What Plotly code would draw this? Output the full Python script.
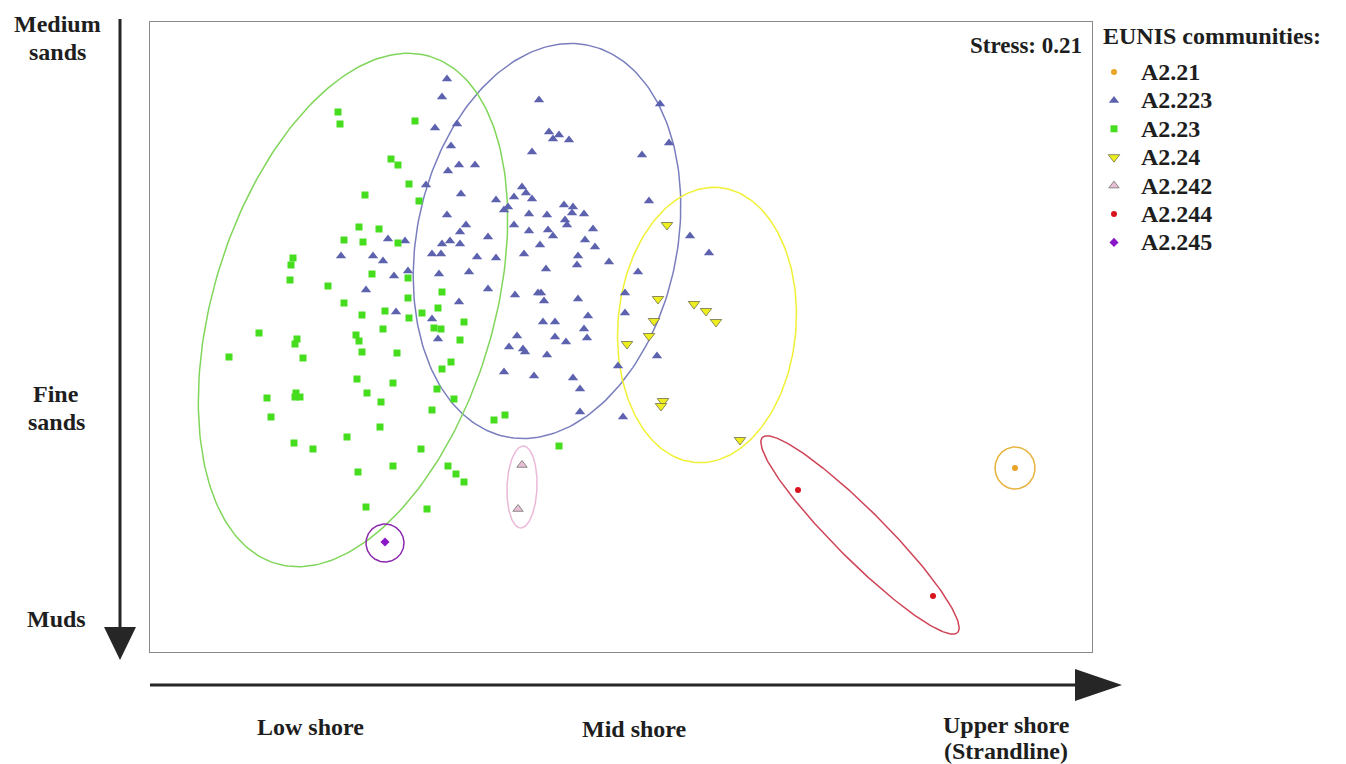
import numpy as np
import plotly.graph_objects as go

W, H = 1346, 764

# ---- nMDS site scores (panel units: x grows to the upper shore, y grows towards muds) ----
a2_21_x = [1015]
a2_21_y = [468]

a2_223_x = [447, 442, 435, 457, 451, 459, 475, 448, 426, 461, 447, 466, 460, 388, 405,
            442, 450, 460, 341, 373, 383, 432, 441, 477, 394, 408, 439, 469, 366, 459,
            396, 432, 438, 539, 549, 553, 559, 569, 532, 522, 526, 514, 532, 496, 508,
            504, 564, 573, 572, 584, 529, 547, 565, 567, 514, 529, 548, 553, 593, 488,
            585, 595, 540, 524, 578, 577, 496, 546, 488, 515, 538, 541, 578, 544, 588,
            543, 555, 584, 587, 555, 517, 566, 509, 523, 525, 547, 504, 534, 573, 580,
            580, 660, 669, 642, 649, 690, 709, 609, 638, 625, 625, 657, 618, 623]
a2_223_y = [79, 97, 128, 124, 146, 165, 165, 171, 185, 194, 215, 225, 232, 239, 241,
            244, 241, 244, 256, 256, 261, 254, 254, 257, 276, 271, 274, 272, 290, 302,
            312, 319, 339, 100, 132, 139, 135, 140, 152, 187, 193, 197, 199, 200, 207,
            210, 205, 207, 213, 214, 214, 215, 220, 225, 225, 231, 230, 236, 229, 237,
            240, 247, 245, 254, 256, 265, 258, 269, 289, 295, 293, 293, 299, 301, 316,
            322, 322, 329, 338, 337, 336, 342, 347, 349, 352, 355, 372, 376, 378, 389,
            412, 104, 143, 155, 201, 236, 253, 262, 272, 293, 313, 356, 366, 417]

a2_23_x = [338, 340, 415, 391, 398, 409, 365, 419, 359, 379, 344, 363, 398, 293, 291,
           290, 328, 372, 408, 442, 408, 344, 362, 385, 409, 422, 438, 434, 441, 464,
           460, 383, 356, 359, 362, 397, 451, 442, 357, 393, 367, 381, 437, 454, 432,
           380, 347, 421, 358, 393, 448, 456, 464, 366, 427, 259, 297, 295, 229, 303,
           267, 296, 295, 300, 271, 294, 313, 494, 505, 559]
a2_23_y = [112, 124, 121, 159, 165, 184, 195, 201, 227, 229, 240, 242, 243, 258, 265,
           280, 286, 274, 278, 292, 298, 303, 315, 311, 318, 313, 308, 328, 329, 322,
           340, 329, 335, 341, 352, 353, 362, 369, 379, 383, 393, 402, 389, 399, 410,
           427, 437, 449, 472, 466, 466, 474, 482, 507, 509, 333, 339, 344, 357, 358,
           398, 393, 397, 397, 417, 443, 449, 420, 415, 446]

a2_24_x = [667, 658, 694, 706, 716, 654, 649, 627, 663, 661, 740]
a2_24_y = [225, 299, 304, 311, 322, 321, 336, 344, 401, 406, 440]

a2_242_x = [522, 518]
a2_242_y = [465, 509]

a2_244_x = [798, 933]
a2_244_y = [490, 596]

a2_245_x = [385]
a2_245_y = [542]

# ---- group ellipses: centre, semi-axes, orientation of the major axis (deg) ----
ell_names = ["A2.21", "A2.223", "A2.23", "A2.24", "A2.242", "A2.244", "A2.245"]
ell_cx = [1015, 547, 353, 707, 522, 860, 385]
ell_cy = [468, 241, 310, 325, 487, 535, 543]
ell_a = [21, 200, 265, 138, 41, 138, 19]
ell_b = [20, 130, 140, 89, 15, 25, 19]
ell_phi = [90, 78, 73, 85, 88, -45, 90]

SERIF = "Liberation Serif, Times New Roman, serif"
TXT = "#1e1e1e"

groups = [
    ("A2.21", a2_21_x, a2_21_y, dict(symbol="circle", size=6, color="#E8A425", line=dict(width=0)), "#E7B33C"),
    ("A2.223", a2_223_x, a2_223_y, dict(symbol="triangle-up", size=9, color="#5C62AE", line=dict(width=0)), "#7A7EBE"),
    ("A2.23", a2_23_x, a2_23_y, dict(symbol="square", size=7, color="#47DD1F", line=dict(width=0)), "#80D65A"),
    ("A2.24", a2_24_x, a2_24_y, dict(symbol="triangle-down", size=10, color="#EEEE1E", line=dict(width=0.8, color="#6E6E50")), "#F0F035"),
    ("A2.242", a2_242_x, a2_242_y, dict(symbol="triangle-up", size=9, color="#E9BFD6", line=dict(width=0.8, color="#707070")), "#EBB8D8"),
    ("A2.244", a2_244_x, a2_244_y, dict(symbol="circle", size=6, color="#D8141E", line=dict(width=0)), "#CF4457"),
    ("A2.245", a2_245_x, a2_245_y, dict(symbol="diamond", size=7, color="#8A18C8", line=dict(width=0)), "#8C2AAE"),
]


def ellipse(cx, cy, a, b, phi_deg, n=240):
    """Outline of a rotated ellipse; the panel's y axis points downwards."""
    t = np.linspace(0, 2 * np.pi, n)
    p = np.radians(phi_deg)
    ux, uy = np.cos(p), -np.sin(p)
    vx, vy = np.sin(p), np.cos(p)
    return (cx + a * np.cos(t) * ux + b * np.sin(t) * vx,
            cy + a * np.cos(t) * uy + b * np.sin(t) * vy)


fig = go.Figure()

for i, (name, xs, ys, mk, ecol) in enumerate(groups):
    ex, ey = ellipse(ell_cx[i], ell_cy[i], ell_a[i], ell_b[i], ell_phi[i])
    fig.add_trace(go.Scatter(x=ex, y=ey, mode="lines", line=dict(color=ecol, width=1.5),
                             hoverinfo="skip", showlegend=False))

for name, xs, ys, mk, ecol in groups:
    fig.add_trace(go.Scatter(x=xs, y=ys, mode="markers", name=name, marker=mk,
                             showlegend=False))

# legend key, drawn on a full-page helper axis
row0, row_step = 72, 28.4
for i, (name, xs, ys, mk, ecol) in enumerate(groups):
    fig.add_trace(go.Scatter(x=[1114], y=[row0 + i * row_step], mode="markers",
                             marker=mk, xaxis="x2", yaxis="y2", showlegend=False,
                             hoverinfo="skip"))


def px(x):
    return x / W


def py(y):
    return 1 - y / H


ann = []


def label(text, x, y, xanchor="center", size=24):
    ann.append(dict(text=f"<b>{text}</b>", x=px(x), y=py(y), xref="paper", yref="paper",
                    xanchor=xanchor, yanchor="middle", showarrow=False,
                    font=dict(family=SERIF, size=size, color=TXT)))


label("Medium", 57, 24)
label("sands", 57, 52)
label("Fine", 56, 394)
label("sands", 56, 422)
label("Muds", 56, 619)
label("Low shore", 310, 727)
label("Mid shore", 634, 729)
label("Upper shore", 1006, 725)
label("(Strandline)", 1006, 751)
label("Stress: 0.21", 1084, 45, xanchor="right", size=23)
label("EUNIS communities:", 1101, 36, xanchor="left")
for i, (name, *_rest) in enumerate(groups):
    label(name, 1139, row0 + i * row_step, xanchor="left")

ARROW = "#262626"
shapes = [
    dict(type="line", xref="paper", yref="paper", x0=px(120), y0=py(19), x1=px(120), y1=py(632),
         line=dict(color=ARROW, width=3)),
    dict(type="path", xref="paper", yref="paper",
         path=f"M {px(104)} {py(627)} L {px(136)} {py(627)} L {px(120)} {py(660)} Z",
         fillcolor=ARROW, line=dict(width=0)),
    dict(type="line", xref="paper", yref="paper", x0=px(150), y0=py(685), x1=px(1080), y1=py(685),
         line=dict(color=ARROW, width=3)),
    dict(type="path", xref="paper", yref="paper",
         path=f"M {px(1075)} {py(669)} L {px(1075)} {py(701)} L {px(1122)} {py(685)} Z",
         fillcolor=ARROW, line=dict(width=0)),
]

frame = dict(showgrid=False, zeroline=False, showticklabels=False, ticks="",
             showline=True, mirror=True, linecolor="#8a8a8a", linewidth=1)

fig.update_layout(
    width=W, height=H, autosize=False,
    margin=dict(l=0, r=0, t=0, b=0),
    paper_bgcolor="white", plot_bgcolor="white",
    showlegend=False,
    xaxis=dict(domain=[150 / W, 1092 / W], range=[150, 1092], **frame),
    yaxis=dict(domain=[1 - 652 / H, 1 - 22 / H], range=[652, 22], **frame),
    xaxis2=dict(domain=[1095 / W, 1], range=[1095, W], visible=False, anchor="y2"),
    yaxis2=dict(domain=[0, 1], range=[H, 0], visible=False, anchor="x2"),
    annotations=ann,
    shapes=shapes,
)

fig.write_html("out.html")
